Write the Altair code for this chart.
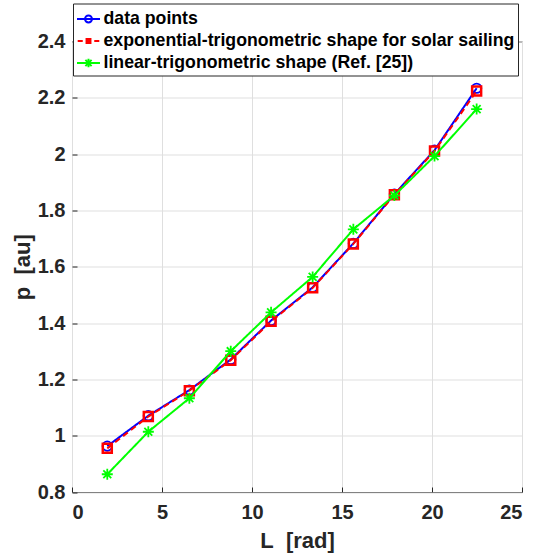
import altair as alt
import pandas as pd

# ---- data ----
L = [1.96, 4.24, 6.52, 8.82, 11.06, 13.37, 15.63, 17.91, 20.14, 22.48]
p_data = [0.963, 1.071, 1.162, 1.271, 1.409, 1.527, 1.683, 1.858, 2.014, 2.234]
p_exp = [0.955, 1.068, 1.160, 1.268, 1.406, 1.525, 1.681, 1.856, 2.011, 2.224]
p_lin = [0.863, 1.014, 1.133, 1.300, 1.438, 1.564, 1.733, 1.853, 1.993, 2.160]

series_names = [
    "data points",
    "exponential-trigonometric shape for solar sailing",
    "linear-trigonometric shape (Ref. [25])",
]
colors = ["#0000ff", "#ff0000", "#00ff00"]
x_ticks = [0, 5, 10, 15, 20, 25]
y_ticks = [0.8, 1.0, 1.2, 1.4, 1.6, 1.8, 2.0, 2.2, 2.4]

# ---- styles ----
ASTERISK = "M0,-1L0,1M-1,0L1,0M-0.72,-0.72L0.72,0.72M-0.72,0.72L0.72,-0.72"
GLYPH_BLUE = "M-1,0L1,0M0.3,0A0.3,0.3,0,1,1,-0.3,0A0.3,0.3,0,1,1,0.3,0"
GLYPH_RED = ("M-0.94,0L-0.5,0M0.5,0L0.94,0"
             "M-0.17,-0.17L0.17,-0.17L0.17,0.17L-0.17,0.17Z"
             "M-0.05,-0.05L0.05,-0.05L0.05,0.05L-0.05,0.05Z")
GLYPH_GREEN = ("M-1,0L1,0M0,-0.38L0,0.38M-0.38,0L0.38,0"
               "M-0.27,-0.27L0.27,0.27M-0.27,0.27L0.27,-0.27")

dash = [[1, 0], [6, 4], [1, 0]]
shapes = ["circle", "square", ASTERISK]
sizes = [88, 81, 121]
pt_width = [1.8, 2.5, 1.8]

values = [p_data, p_exp, p_lin]
frames = []
for name, vals in zip(series_names, values):
    frames.append(pd.DataFrame({"L": L, "p": vals, "series": name}))

FONT = "Liberation Sans"
TXT = "#262626"

xenc = alt.X(
    "L:Q",
    scale=alt.Scale(domain=[0, 25], nice=False, zero=False),
    axis=alt.Axis(values=x_ticks, title="L\u00a0 [rad]", labelPadding=15, titlePadding=8),
)
yenc = alt.Y(
    "p:Q",
    scale=alt.Scale(domain=[0.8, 2.4], nice=False, zero=False),
    axis=alt.Axis(values=y_ticks, format="~g", title="p\u00a0 [au]", labelPadding=12, titlePadding=3),
)

layers = []
for i, df in enumerate(frames):
    base = alt.Chart(df)
    line = base.mark_line(strokeWidth=2, clip=True, strokeDash=dash[i], color=colors[i]).encode(
        x=xenc, y=yenc
    )
    pts = base.mark_point(
        shape=shapes[i], size=sizes[i], filled=False, opacity=1,
        strokeWidth=pt_width[i], color=colors[i], clip=True,
    ).encode(x=xenc, y=yenc)
    layers += [line, pts]

# legend-only layer (points placed outside the domain and clipped away)
leg_df = pd.DataFrame({"L": [-10.0] * 3, "p": [0.0] * 3, "series": series_names})
legend_layer = alt.Chart(leg_df).mark_point(filled=False, opacity=1, clip=True, strokeWidth=2).encode(
    x=xenc,
    y=yenc,
    color=alt.Color("series:N", title=None,
                    scale=alt.Scale(domain=series_names, range=colors),
                    legend=alt.Legend(orient="none", legendX=1, legendY=-38)),
    shape=alt.Shape("series:N", title=None,
                    scale=alt.Scale(domain=series_names, range=[GLYPH_BLUE, GLYPH_RED, GLYPH_GREEN]),
                    legend=alt.Legend(orient="none", legendX=1, legendY=-38)),
)
layers.append(legend_layer)

chart = alt.layer(*layers).properties(
    width=450, height=450.5,
    autosize=alt.AutoSizeParams(type="none"),
    padding={"left": 72, "top": 41.5, "right": 11, "bottom": 66},
).configure(
    font=FONT,
).configure_view(
    stroke=TXT, strokeWidth=1,
).configure_axis(
    labelFont=FONT, labelFontWeight="bold", labelFontSize=20, labelColor=TXT,
    titleFont=FONT, titleFontWeight="bold", titleFontSize=22, titleColor=TXT,
    grid=True, gridColor="#dfdfdf", gridWidth=1,
    domain=False, ticks=True, tickColor=TXT, tickWidth=1, tickSize={"expr": "-5"},
).configure_legend(
    labelFont=FONT, labelFontWeight="bold", labelFontSize=17.7, labelColor="#000000",
    labelLimit=1000, labelOffset=2.5,
    symbolSize=529, symbolStrokeWidth=2, rowPadding=0, padding=3,
    strokeColor=TXT, fillColor="white", cornerRadius=0,
)

chart.save("out.html", embed_options={"renderer": "svg", "actions": False})
